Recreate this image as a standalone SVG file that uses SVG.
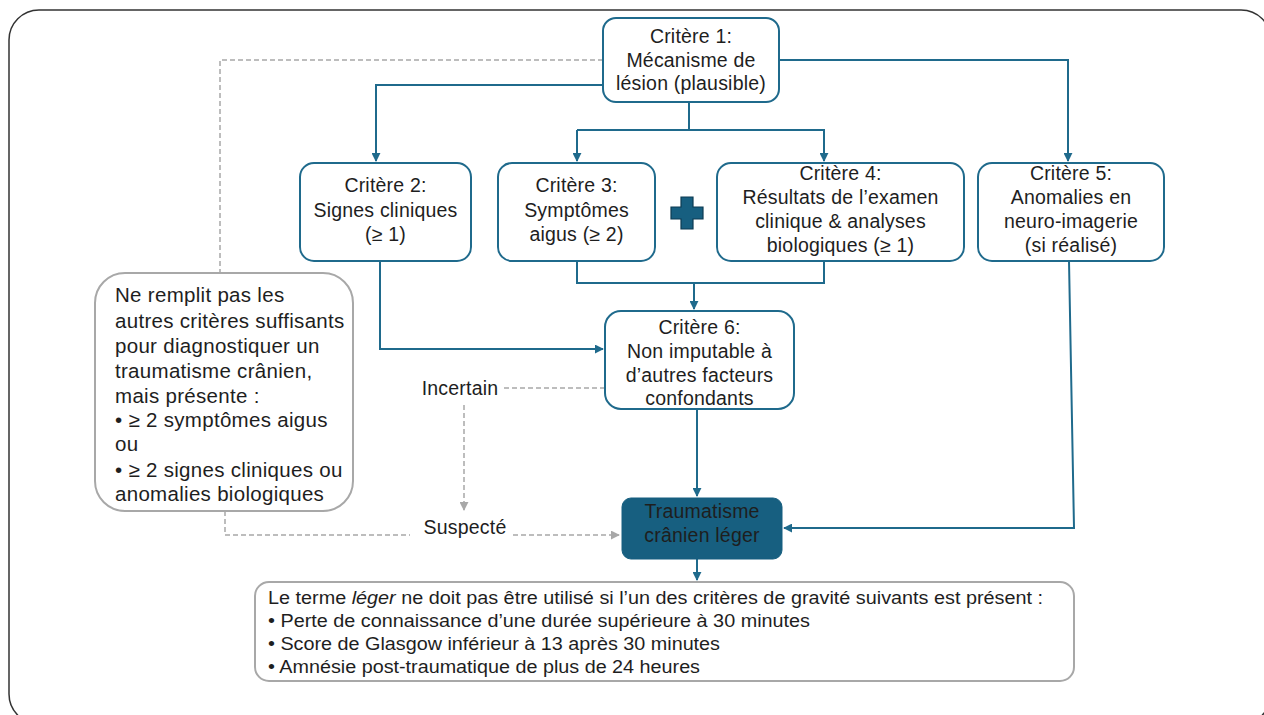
<svg xmlns="http://www.w3.org/2000/svg" width="1264" height="715" viewBox="0 0 1264 715">
<defs>
<style>
.node{fill:#fff;stroke:#1f6a8c;stroke-width:2}
.t{font-family:"Liberation Sans",Arial,sans-serif;font-size:19.5px;letter-spacing:0.2px;fill:#1e1e1e;text-anchor:middle}
.tl{font-family:"Liberation Sans",Arial,sans-serif;font-size:20.5px;letter-spacing:0.3px;fill:#1e1e1e}
.tb{font-family:"Liberation Sans",Arial,sans-serif;font-size:17.5px;fill:#1e1e1e}
.c{fill:none;stroke:#1f6a8c;stroke-width:2}
.d{fill:none;stroke:#a8a8a8;stroke-width:1.5;stroke-dasharray:5 3}
</style>
<marker id="a" viewBox="0 0 10 10" refX="9" refY="5" markerWidth="9" markerHeight="9" markerUnits="userSpaceOnUse" orient="auto"><path d="M0,0L10,5L0,10z" fill="#1f6a8c"/></marker>
<marker id="g" viewBox="0 0 10 10" refX="9" refY="5" markerWidth="9" markerHeight="9" markerUnits="userSpaceOnUse" orient="auto"><path d="M0,0L10,5L0,10z" fill="#a8a8a8"/></marker>
</defs>
<rect x="0" y="0" width="1264" height="715" fill="#fff"/>
<rect id="frame" x="9" y="10" width="1262" height="714" rx="30" fill="none" stroke="#333" stroke-width="1.5"/>

<g id="connectors">
<path class="c" d="M603,85H376V161" marker-end="url(#a)"/>
<path class="c" d="M689,102V130H577M577,130V161" marker-end="url(#a)"/>
<path class="c" d="M689,130H824V161" marker-end="url(#a)"/>
<path class="c" d="M779,60H1068V161" marker-end="url(#a)"/>
<path class="c" d="M577,261V283H824V261"/>
<path class="c" d="M694,283V309" marker-end="url(#a)"/>
<path class="c" d="M380,261V349H603" marker-end="url(#a)"/>
<path class="c" d="M697,409V496" marker-end="url(#a)"/>
<path class="c" d="M1069,261L1074,528H784" marker-end="url(#a)"/>
<path class="c" d="M697,559V580" marker-end="url(#a)"/>
<path class="d" d="M603,60H220V273"/>
<path class="d" d="M225,511V535H410"/>
<path class="d" d="M513,535H619" marker-end="url(#g)"/>
<path class="d" d="M605,388H503"/>
<path class="d" d="M464,405V510" marker-end="url(#g)"/>
</g>

<g id="c1"><rect class="node" x="603" y="18" width="176" height="84" rx="13"/>
<text class="t" x="691" y="43">Critère 1:</text><text class="t" x="691" y="66.5">Mécanisme de</text><text class="t" x="691" y="90">lésion (plausible)</text></g>

<g id="c2"><rect class="node" x="300" y="163" width="171" height="98" rx="14"/>
<text class="t" x="385.5" y="192">Critère 2:</text><text class="t" x="385.5" y="216.5">Signes cliniques</text><text class="t" x="385.5" y="241">(≥ 1)</text></g>

<g id="c3"><rect class="node" x="498" y="163" width="157" height="98" rx="14"/>
<text class="t" x="576.5" y="192">Critère 3:</text><text class="t" x="576.5" y="216.5">Symptômes</text><text class="t" x="576.5" y="241">aigus (≥ 2)</text></g>

<g id="plus"><path d="M681,197H693V207H703V219H693V229H681V219H671V207H681Z" fill="#175f80" stroke="#0d3b52" stroke-width="1.2"/></g>

<g id="c4"><rect class="node" x="717" y="163" width="247" height="98" rx="14"/>
<text class="t" x="840.5" y="179.5">Critère 4:</text><text class="t" x="840.5" y="203.5">Résultats de l’examen</text><text class="t" x="840.5" y="227.5">clinique &amp; analyses</text><text class="t" x="840.5" y="251.5">biologiques (≥ 1)</text></g>

<g id="c5"><rect class="node" x="978" y="163" width="186" height="98" rx="14"/>
<text class="t" x="1071" y="179.5">Critère 5:</text><text class="t" x="1071" y="203.5">Anomalies en</text><text class="t" x="1071" y="227.5">neuro-imagerie</text><text class="t" x="1071" y="251.5">(si réalisé)</text></g>

<g id="c6"><rect class="node" x="605" y="311" width="189" height="98" rx="16"/>
<text class="t" x="699.5" y="333.5">Critère 6:</text><text class="t" x="699.5" y="357.5">Non imputable à</text><text class="t" x="699.5" y="381.5">d’autres facteurs</text><text class="t" x="699.5" y="404.5">confondants</text></g>

<g id="tcl"><rect x="622" y="498" width="160" height="61" rx="9" fill="#175f80" stroke="#175f80"/>
<text class="t" x="702" y="517.5">Traumatisme</text><text class="t" x="702" y="541.5">crânien léger</text></g>

<g id="other"><rect x="95" y="273" width="258" height="238" rx="30" fill="#fff" stroke="#a8a8a8" stroke-width="2"/>
<text class="tl" x="115" y="302">Ne remplit pas les</text>
<text class="tl" x="115" y="327.5">autres critères suffisants</text>
<text class="tl" x="115" y="352.5">pour diagnostiquer un</text>
<text class="tl" x="115" y="377.5">traumatisme crânien,</text>
<text class="tl" x="115" y="402.5">mais présente :</text>
<text class="tl" x="115" y="427">• ≥ 2 symptômes aigus</text>
<text class="tl" x="115" y="451">ou</text>
<text class="tl" x="115" y="476.5">• ≥ 2 signes cliniques ou</text>
<text class="tl" x="115" y="501">anomalies biologiques</text></g>

<g id="labels">
<text class="t" x="460" y="394.5">Incertain</text>
<text class="t" x="465" y="533.5">Suspecté</text>
</g>

<g id="note"><rect x="255" y="582" width="819" height="99" rx="14" fill="#fff" stroke="#a8a8a8" stroke-width="2"/>
<text class="tb" x="268" y="604" textLength="775" lengthAdjust="spacingAndGlyphs">Le terme <tspan font-style="italic">léger</tspan> ne doit pas être utilisé si l’un des critères de gravité suivants est présent :</text>
<text class="tb" x="268" y="627" textLength="542" lengthAdjust="spacingAndGlyphs">• Perte de connaissance d’une durée supérieure à 30 minutes</text>
<text class="tb" x="268" y="650" textLength="452" lengthAdjust="spacingAndGlyphs">• Score de Glasgow inférieur à 13 après 30 minutes</text>
<text class="tb" x="268" y="673" textLength="432" lengthAdjust="spacingAndGlyphs">• Amnésie post-traumatique de plus de 24 heures</text>
</g>
</svg>
